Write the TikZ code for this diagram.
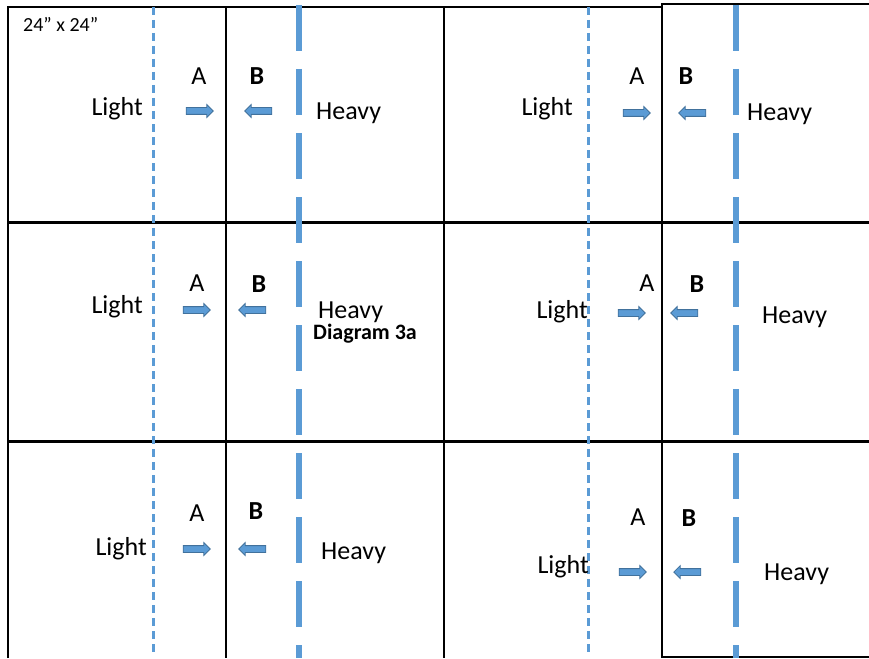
\documentclass[tikz,border=0pt]{standalone}
\usepackage{fontspec}
\setmainfont{Carlito}
\usepackage{tikz}
\usetikzlibrary{shapes,arrows}
\definecolor{ltblue}{HTML}{5B9BD5}
\definecolor{dkblue}{HTML}{41719C}
\tikzstyle{wall}=[draw=black,line width=2pt]
\tikzstyle{lightline}=[draw=ltblue,line width=3pt,dash pattern=on 8pt off 5pt]
\tikzstyle{heavyline}=[draw=ltblue,line width=5.5pt,dash pattern=on 46pt off 18pt]
\tikzstyle{pusharr}=[single arrow,draw=dkblue,fill=ltblue,line width=0.8pt,% block arrow
minimum height=27pt,single arrow head extend=3pt,inner xsep=0pt,inner ysep=3pt]
\tikzstyle{pushl}=[pusharr,shape border rotate=180]
\tikzstyle{big}=[font=\fontsize{26}{30}\selectfont,inner sep=0pt]
\tikzstyle{lbl}=[font=\fontsize{26}{30}\selectfont,inner sep=0pt]
\tikzstyle{lblb}=[font=\fontsize{26}{30}\selectfont\bfseries,inner sep=0pt]

\begin{document}
\begin{tikzpicture}[x=1pt,y=-1pt]
\useasboundingbox (0,0) rectangle (869,658);
% grid of tiles
\draw[wall] (8,658) -- (8,7) -- (662,7);
\draw[wall] (226,7) -- (226,658);
\draw[wall] (444,7) -- (444,658);
\draw[wall] (662,658) -- (662,4) -- (869,4);
\draw[wall] (662,657) -- (869,657);
\draw[wall,line width=3pt] (8,222) -- (869,222);
\draw[wall,line width=3pt] (8,441) -- (869,441);
% chalk lines
\draw[lightline] (153,7) -- (153,652);
\draw[lightline] (588,7) -- (588,652);
\draw[heavyline] (299,5) -- (299,658);
\draw[heavyline] (736,5) -- (736,658);
\node[font=\fontsize{20}{24}\selectfont,anchor=west,inner sep=0pt] (size) at (23,24) {24” x 24”};
% row 1
\node[big,anchor=base east] (l1) at (143,115) {Light};
\node[lbl] (a1) at (199,76) {A};
\node[lblb] (b1) at (257,76) {B};
\node[pusharr] (ra1) at (198,111) {};
\node[pushl] (la1) at (260,111) {};
\node[big,anchor=base west] (h1) at (316,119) {Heavy};
\node[big,anchor=base east] (l2) at (573,116) {Light};
\node[lbl] (a2) at (637,76) {A};
\node[lblb] (b2) at (686,76) {B};
\node[pusharr] (ra2) at (635,113) {};
\node[pushl] (la2) at (694,113) {};
\node[big,anchor=base west] (h2) at (747,121) {Heavy};
% row 2
\node[big,anchor=base east] (l3) at (143,313) {Light};
\node[lbl] (a3) at (197,283) {A};
\node[lblb] (b3) at (259,284) {B};
\node[pusharr] (ra3) at (195,310) {};
\node[pushl] (la3) at (254,310) {};
\node[big,anchor=base west] (h3) at (318,318) {Heavy};
\node[font=\fontsize{22}{26}\selectfont\bfseries,anchor=base west,inner sep=0pt] (cap) at (313,339) {Diagram 3a};
\node[big,anchor=base east] (l4) at (588,318) {Light};
\node[lbl] (a4) at (647,283) {A};
\node[lblb] (b4) at (697,284) {B};
\node[pusharr] (ra4) at (630,313) {};
\node[pushl] (la4) at (686,313) {};
\node[big,anchor=base west] (h4) at (762,323) {Heavy};
% row 3
\node[big,anchor=base east] (l5) at (147,555) {Light};
\node[lbl] (a5) at (197,513) {A};
\node[lblb] (b5) at (256,511) {B};
\node[pusharr] (ra5) at (195,549) {};
\node[pushl] (la5) at (254,549) {};
\node[big,anchor=base west] (h5) at (321,559) {Heavy};
\node[big,anchor=base east] (l6) at (589,573) {Light};
\node[lbl] (a6) at (638,517) {A};
\node[lblb] (b6) at (689,518) {B};
\node[pusharr] (ra6) at (631,572) {};
\node[pushl] (la6) at (689,572) {};
\node[big,anchor=base west] (h6) at (764,580) {Heavy};
\end{tikzpicture}
\end{document}
